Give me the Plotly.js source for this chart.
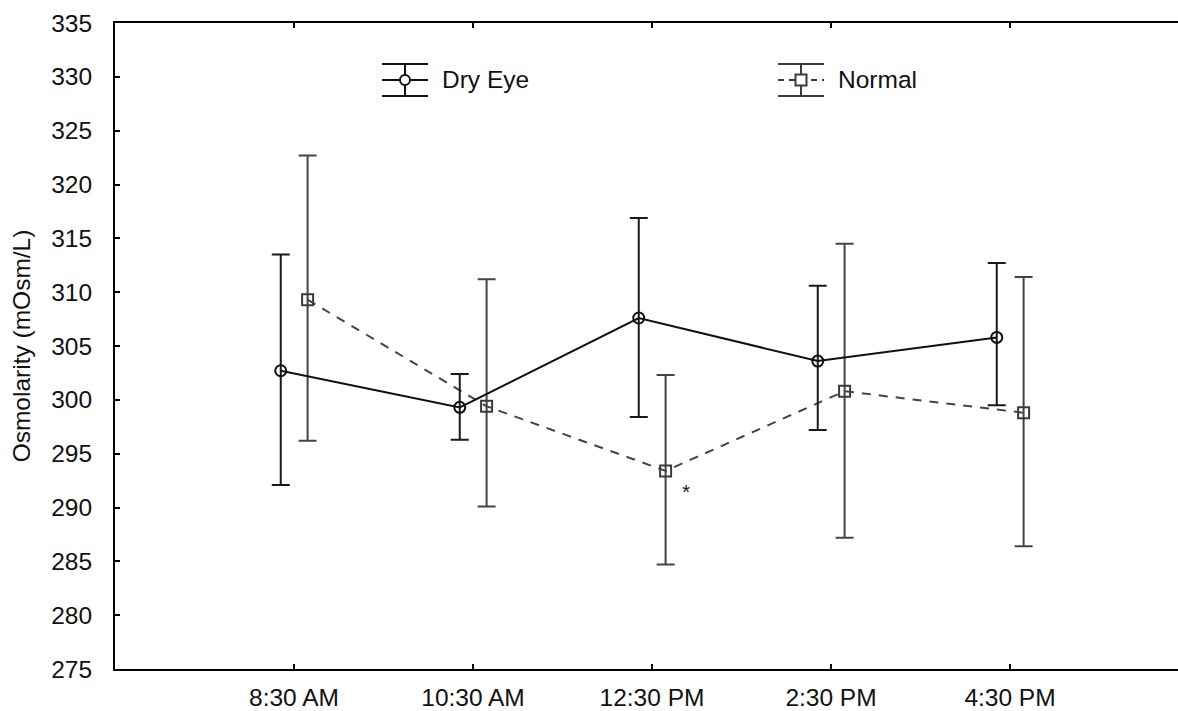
<!DOCTYPE html>
<html>
<head>
<meta charset="utf-8">
<script src="https://cdn.plot.ly/plotly-3.0.1.min.js"></script>
<style>
  html, body { margin: 0; padding: 0; overflow: hidden; background: #fff; }
  #chart { width: 1200px; height: 711px; }
</style>
</head>
<body>
<div id="chart"></div>
<script>
// ---- data ----
const timeLabels = ["8:30 AM", "10:30 AM", "12:30 PM", "2:30 PM", "4:30 PM"];
const seriesNames = ["Dry Eye", "Normal"];

const dryMean  = [302.7, 299.3, 307.6, 303.6, 305.8];
const dryUpper = [313.5, 302.4, 316.9, 310.6, 312.7];
const dryLower = [292.1, 296.3, 298.4, 297.2, 299.5];

const normMean  = [309.3, 299.4, 293.4, 300.8, 298.8];
const normUpper = [322.7, 311.2, 302.3, 314.5, 311.4];
const normLower = [296.2, 290.1, 284.7, 287.2, 286.4];

const signifIndex = [2];   // '*' marker on Normal at 12:30 PM
const yTicks = [275, 280, 285, 290, 295, 300, 305, 310, 315, 320, 325, 330, 335];

// ---- styling / layout helpers ----
const FONT = '"Liberation Sans", Arial, sans-serif';
const FS = 24.5;
const idx = timeLabels.map((_, i) => i);
const dryOffset = -0.074, normOffset = 0.076;

const L = 115, R = 1189, T = 23, B = 669;
const px = v => (v - L) / (R - L);
const py = v => (B - v) / (B - T);

const dryTrace = {
  type: 'scatter', mode: 'lines+markers', name: seriesNames[0],
  x: idx.map(i => i + dryOffset), y: dryMean,
  line: { color: '#111', width: 2 },
  marker: { symbol: 'circle-open', size: 11, color: '#111', line: { width: 2, color: '#111' } },
  error_y: {
    type: 'data', symmetric: false,
    array: dryUpper.map((u, i) => u - dryMean[i]),
    arrayminus: dryMean.map((m, i) => m - dryLower[i]),
    color: '#1a1a1a', thickness: 2, width: 9
  },
  hoverinfo: 'y'
};

const normTrace = {
  type: 'scatter', mode: 'lines+markers', name: seriesNames[1],
  x: idx.map(i => i + normOffset), y: normMean,
  line: { color: '#444', width: 2, dash: '9px,8px' },
  marker: { symbol: 'square-open', size: 11, color: '#3a3a3a', line: { width: 2, color: '#3a3a3a' } },
  error_y: {
    type: 'data', symmetric: false,
    array: normUpper.map((u, i) => u - normMean[i]),
    arrayminus: normMean.map((m, i) => m - normLower[i]),
    color: '#444', thickness: 2, width: 9
  },
  hoverinfo: 'y'
};

// custom legend (icons with error-bar glyphs)
const legendY = 80, capTop = 64, capBot = 96;
function legendShapes(x0, x1, color, dash, markerType, half) {
  const xc = (x0 + x1) / 2;
  const base = { xref: 'paper', yref: 'paper', line: { color: color, width: 2 } };
  return [
    Object.assign({}, base, { type: 'line', x0: px(x0), x1: px(x1), y0: py(capTop), y1: py(capTop) }),
    Object.assign({}, base, { type: 'line', x0: px(x0), x1: px(x1), y0: py(capBot), y1: py(capBot) }),
    Object.assign({}, base, { type: 'line', x0: px(xc), x1: px(xc), y0: py(capTop), y1: py(capBot) }),
    { type: 'line', xref: 'paper', yref: 'paper', x0: px(x0), x1: px(x1), y0: py(legendY), y1: py(legendY),
      line: { color: color, width: 2, dash: dash } },
    { type: markerType, xref: 'paper', yref: 'paper', xsizemode: 'pixel', ysizemode: 'pixel',
      xanchor: px(xc), yanchor: py(legendY), x0: -half, x1: half, y0: -half, y1: half,
      fillcolor: '#fff', line: { color: color, width: 2 } }
  ];
}

const shapes = []
  .concat(legendShapes(382, 428, '#111', 'solid', 'circle', 5))
  .concat(legendShapes(778, 824, '#3a3a3a', '6px,5px', 'rect', 5.5));

const annotations = [
  { xref: 'paper', yref: 'paper', x: px(440), y: py(79), xanchor: 'left', yanchor: 'middle',
    text: seriesNames[0], showarrow: false, font: { family: FONT, size: FS, color: '#111' } },
  { xref: 'paper', yref: 'paper', x: px(836), y: py(79), xanchor: 'left', yanchor: 'middle',
    text: seriesNames[1], showarrow: false, font: { family: FONT, size: FS, color: '#111' } }
].concat(signifIndex.map(i => ({
  xref: 'x', yref: 'y', x: i + 0.19, y: normMean[i], yshift: -21,
  text: '*', showarrow: false, font: { family: FONT, size: 21, color: '#1a1a1a' }
})));

const layout = {
  width: 1200, height: 711,
  margin: { l: L, r: 1200 - R, t: T, b: 711 - B, pad: 0 },
  paper_bgcolor: '#fff', plot_bgcolor: '#fff',
  showlegend: false,
  font: { family: FONT, size: FS, color: '#111' },
  xaxis: {
    range: [-1, 5], tickmode: 'array', tickvals: idx, ticktext: timeLabels,
    showgrid: false, zeroline: false,
    showline: true, linecolor: '#000', linewidth: 2, mirror: 'ticks',
    ticks: 'inside', ticklen: 5, tickwidth: 2, tickcolor: '#000',
    tickfont: { family: FONT, size: FS, color: '#111' },
    ticklabelstandoff: 6
  },
  yaxis: {
    range: [275, 335], tickmode: 'array', tickvals: yTicks,
    showgrid: false, zeroline: false,
    showline: true, linecolor: '#000', linewidth: 2, mirror: 'ticks',
    ticks: 'inside', ticklen: 5, tickwidth: 2, tickcolor: '#000',
    tickfont: { family: FONT, size: FS, color: '#111' },
    ticklabelstandoff: 16,
    title: { text: 'Osmolarity (mOsm/L)', font: { family: FONT, size: FS, color: '#111' }, standoff: 14 },
    automargin: false
  },
  shapes: shapes,
  annotations: annotations
};

Plotly.newPlot('chart', [normTrace, dryTrace], layout, { displayModeBar: false, staticPlot: true });
</script>
</body>
</html>
